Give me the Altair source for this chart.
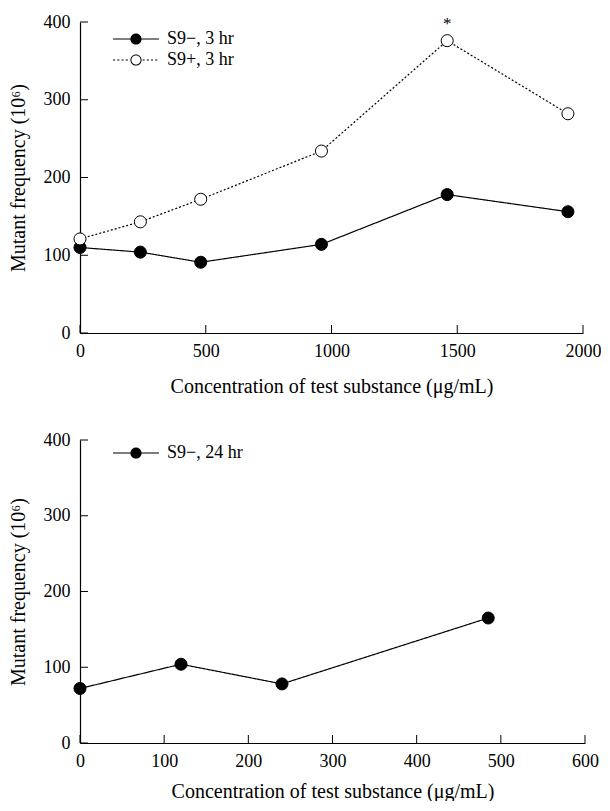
import altair as alt
import pandas as pd

# ---------------- data ----------------
series_top = ["S9−, 3 hr", "S9+, 3 hr"]
conc_top = [0, 240, 480, 960, 1460, 1940]
s9_minus_3h = [110, 104, 91, 114, 178, 156]
s9_plus_3h = [121, 143, 172, 234, 376, 282]

series_bot = ["S9−, 24 hr"]
conc_bot = [0, 120, 240, 485]
s9_minus_24h = [72, 104, 78, 165]

star_x = [1460]
star_y = [376]
star_label = ["*"]

x_ticks_top = [0, 500, 1000, 1500, 2000]
x_ticks_bot = [0, 100, 200, 300, 400, 500, 600]
y_ticks = [0, 100, 200, 300, 400]

x_title = "Concentration of test substance (μg/mL)"
y_title = "Mutant frequency (10⁶)"

FONT = "Liberation Serif"
FS = 18
TFS = 20

# ---------------- legend symbol paths (fill only: line + circle) ----------------
RO, RI, HT = 0.73, 0.60, 0.075


def rect(a, b, h=HT):
    return f"M{a:.3f},{-h:.3f}H{b:.3f}V{h:.3f}H{a:.3f}Z"


disc = f"M{RO},0A{RO},{RO},0,1,1,-{RO},0A{RO},{RO},0,1,1,{RO},0Z"
hole = f"M{RI},0A{RI},{RI},0,1,0,-{RI},0A{RI},{RI},0,1,0,{RI},0Z"
path_solid = rect(-3, -RO + 0.05) + rect(RO - 0.05, 3) + disc
dash_parts = []
pos = -3.0
while pos < -RO - 0.05:
    dash_parts.append(rect(pos, min(pos + 0.28, -RO - 0.05), 0.065))
    pos += 0.55
pos = RO + 0.12
while pos < 3:
    dash_parts.append(rect(pos, min(pos + 0.28, 3), 0.065))
    pos += 0.55
path_dotted = "".join(dash_parts) + disc + hole

SYM = 235
W1, H1 = 503, 311
W2, H2 = 505, 303


def axis_x(vals, tpad):
    return alt.Axis(values=vals, ticks=False, grid=False, title=x_title,
                    labelFlush=False, labelPadding=9, titlePadding=tpad,
                    format="d")


def axis_y():
    return alt.Axis(values=y_ticks, ticks=False, grid=False, title=y_title,
                    labelPadding=10, titlePadding=15, format="d")


def panel(df, series, dashes, fills, shapes, xdom, xt, W, H,
          legend_x, legend_y, tpad, star=None):
    xs = alt.Scale(domain=xdom, nice=False, zero=False)
    ys = alt.Scale(domain=[0, 400], nice=False)

    def X(f):
        return alt.X(f + ":Q", scale=xs, axis=axis_x(xt, tpad), title=x_title)

    def Y(f):
        return alt.Y(f + ":Q", scale=ys, axis=axis_y(), title=y_title)

    layers = []
    xtick = alt.Chart(pd.DataFrame({"conc": xt, "freq": [0] * len(xt)})).mark_rule(
        color="black", strokeWidth=1).encode(
        x=X("conc"), y=alt.value(H), y2=alt.value(H - 8))
    ytick = alt.Chart(pd.DataFrame({"conc": [xdom[0]] * len(y_ticks), "freq": y_ticks})).mark_rule(
        color="black", strokeWidth=1).encode(
        y=Y("freq"), x=alt.value(0), x2=alt.value(8))
    layers += [xtick, ytick]

    for s, d, f in zip(series, dashes, fills):
        sub = df[df["series"] == s]
        ln = alt.Chart(sub).mark_line(color="black", strokeWidth=1.2,
                                      strokeDash=d).encode(x=X("conc"), y=Y("freq"))
        pt = alt.Chart(sub).mark_point(filled=True, size=145, stroke="black",
                                       strokeWidth=1, opacity=1, fill=f,
                                       shape="circle").encode(x=X("conc"), y=Y("freq"))
        layers += [ln, pt]

    leg = alt.Legend(title=None, orient="none", legendX=legend_x,
                     legendY=legend_y, labelFont=FONT, labelFontSize=FS,
                     labelColor="black", symbolSize=SYM, labelOffset=22,
                     rowPadding=3, padding=0, symbolStrokeWidth=0,
                     symbolFillColor="black", symbolOpacity=1)
    legend_layer = alt.Chart(df).transform_filter("false").mark_point(
        filled=True, size=SYM, color="black", opacity=1
    ).encode(
        x=X("conc"), y=Y("freq"),
        shape=alt.Shape("series:N",
                        scale=alt.Scale(domain=series, range=shapes),
                        legend=leg),
    )
    layers.append(legend_layer)

    if star is not None:
        st = alt.Chart(star).mark_text(font=FONT, fontSize=17, dy=-17,
                                       color="black").encode(
            x=X("conc"), y=Y("freq"), text="lab:N")
        layers.append(st)
    return alt.layer(*layers).properties(width=W, height=H)


df_top = pd.DataFrame({
    "conc": conc_top * 2,
    "freq": s9_minus_3h + s9_plus_3h,
    "series": [series_top[0]] * len(conc_top) + [series_top[1]] * len(conc_top),
})
df_bot = pd.DataFrame({
    "conc": conc_bot,
    "freq": s9_minus_24h,
    "series": [series_bot[0]] * len(conc_bot),
})
df_star = pd.DataFrame({"conc": star_x, "freq": star_y, "lab": star_label})

top = panel(df_top, series_top, [[1, 0], [2, 2]], ["black", "white"],
            [path_solid, path_dotted], [0, 2000], x_ticks_top, W1, H1,
            47, 8, 16, star=df_star)
bot = panel(df_bot, series_bot, [[1, 0]], ["black"], [path_solid],
            [0, 600], x_ticks_bot, W2, H2, 47, 4, 11)

chart = alt.vconcat(top, bot, spacing=35).resolve_scale(
    x="independent", y="independent", shape="independent"
).resolve_legend(shape="independent").properties(
    padding={"left": 0, "top": 5, "right": 0, "bottom": 0},
    background="white"
).configure_view(strokeWidth=0).configure_axis(
    domainColor="black", domainWidth=1.2, labelFont=FONT, labelFontSize=FS,
    labelColor="black", titleFont=FONT, titleFontSize=TFS,
    titleFontWeight="normal", titleColor="black"
)

chart.save("out.html", embed_options={"renderer": "svg", "actions": False})
